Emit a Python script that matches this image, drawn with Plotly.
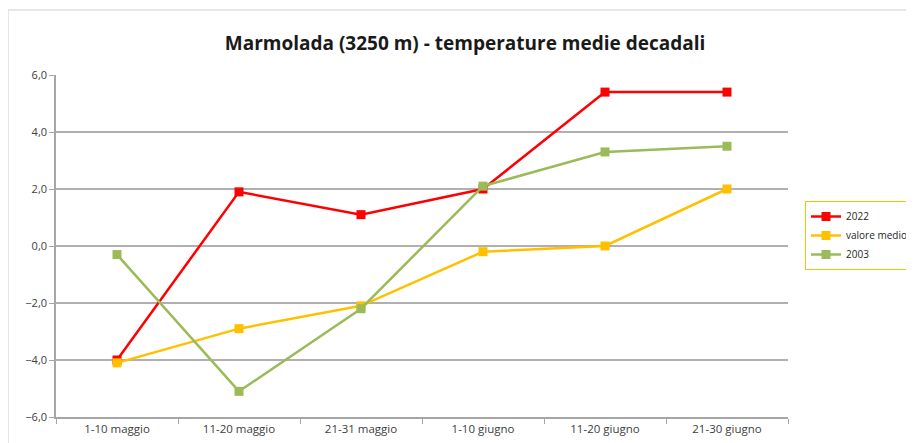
import plotly.graph_objects as go

categories = ["1-10 maggio", "11-20 maggio", "21-31 maggio", "1-10 giugno", "11-20 giugno", "21-30 giugno"]
s2022 = [-4.0, 1.9, 1.1, 2.0, 5.4, 5.4]
valore_medio = [-4.1, -2.9, -2.1, -0.2, 0.0, 2.0]
s2003 = [-0.3, -5.1, -2.2, 2.1, 3.3, 3.5]
y_ticks = [-6, -4, -2, 0, 2, 4, 6]

series = [("2022", s2022, "#FF0000"), ("valore medio", valore_medio, "#FFC000"), ("2003", s2003, "#9BBB59")]

fig = go.Figure()
for name, vals, col in series:
    fig.add_trace(go.Scatter(x=categories, y=vals, name=name, mode="lines+markers",
                             line=dict(color=col, width=2.5),
                             marker=dict(symbol="square", size=9, color=col)))

L, T, PW, PH = 48, 67, 732, 342
fig.update_layout(
    width=914, height=443,
    margin=dict(l=L, r=914 - L - PW, t=T, b=443 - T - PH, autoexpand=False),
    paper_bgcolor="white", plot_bgcolor="white",
    separators=",.",
    title=dict(text="<b>Marmolada (3250 m) - temperature medie decadali</b>",
               x=0.5, xanchor="center", y=1 - 35 / 443, yanchor="middle",
               font=dict(family="Open Sans", size=19, color="#1a1a1a")),
    font=dict(family="Open Sans", size=11, color="#404040"),
    showlegend=True,
    legend=dict(x=(805 - 8 - L) / PW, y=(T + PH - (201 - 8)) / PH, xanchor="left", yanchor="top",
                bordercolor="#FFC000", borderwidth=1, bgcolor="white",
                font=dict(size=10, color="#262626"), itemwidth=30,
                tracegroupgap=0),
    xaxis=dict(type="category", showgrid=False, showline=True, linecolor="#a6a6a6", linewidth=1.5,
               ticks="outside", tickson="boundaries", ticklen=5, tickcolor="#a6a6a6",
               tickfont=dict(size=11.5, color="#404040"), range=[-0.5, 5.5], automargin=False),
    yaxis=dict(range=[-6, 6], tickvals=y_ticks, tickformat=".1f", showgrid=True,
               gridcolor="#b0b0b0", gridwidth=1.5, showline=True, linecolor="#a6a6a6", linewidth=1.5,
               ticks="outside", ticklen=5, tickcolor="#a6a6a6", zeroline=False,
               tickfont=dict(size=11, color="#404040"), automargin=False),
    shapes=[dict(type="rect", xref="paper", yref="paper",
                 x0=(0 - L) / PW, x1=(960 - L) / PW, y0=-60 / PH, y1=(T + PH - 2) / PH,
                 line=dict(color="#e0e0e0", width=1.5), fillcolor="rgba(0,0,0,0)", layer="below")],
)

fig.write_html("out.html")
